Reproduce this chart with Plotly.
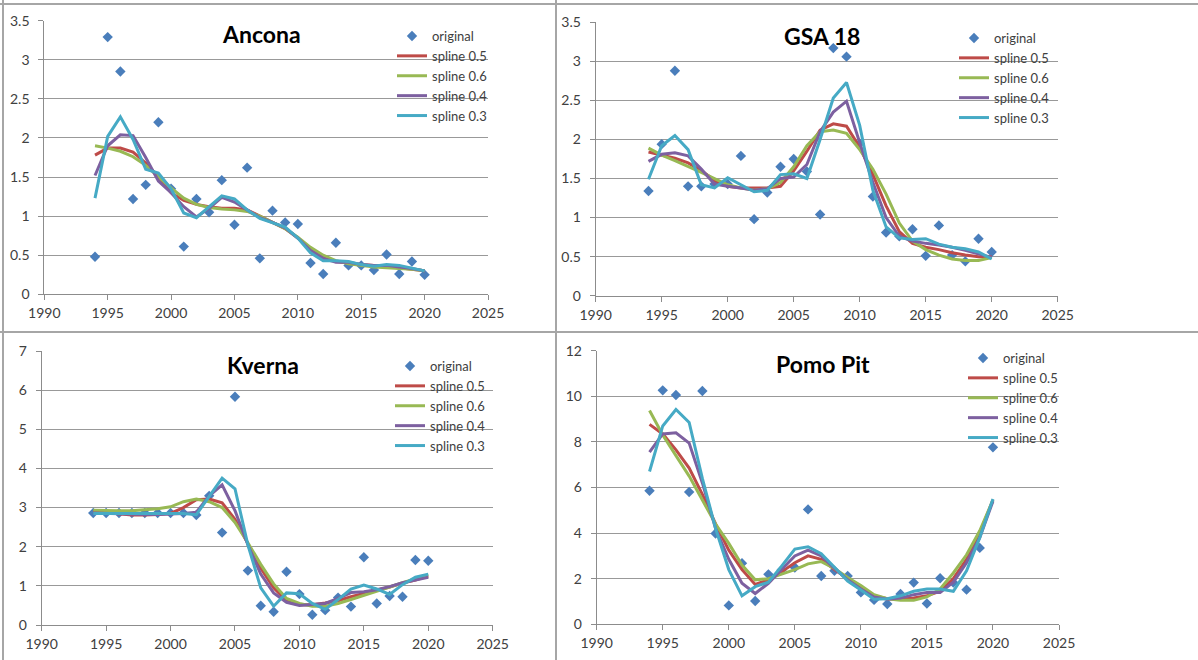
import plotly.graph_objects as go

years = list(range(1994, 2021))
series_names = ["original", "spline 0.5", "spline 0.6", "spline 0.4", "spline 0.3"]

# ---- Ancona ----
anc_orig = [0.48, 3.29, 2.85, 1.22, 1.40, 2.20, 1.35, 0.61, 1.22, 1.05, 1.46, 0.89, 1.62, 0.46,
            1.07, 0.92, 0.90, 0.40, 0.26, 0.66, 0.37, 0.37, 0.31, 0.51, 0.26, 0.42, 0.25]
anc_s05 = [1.78, 1.87, 1.87, 1.82, 1.68, 1.50, 1.30, 1.20, 1.15, 1.12, 1.10, 1.10, 1.08, 1.00,
           0.92, 0.84, 0.72, 0.58, 0.48, 0.42, 0.40, 0.38, 0.37, 0.35, 0.34, 0.32, 0.30]
anc_s06 = [1.90, 1.87, 1.83, 1.76, 1.65, 1.50, 1.36, 1.23, 1.15, 1.11, 1.09, 1.08, 1.06, 1.00,
           0.92, 0.84, 0.73, 0.60, 0.50, 0.43, 0.39, 0.37, 0.35, 0.34, 0.33, 0.32, 0.30]
anc_s04 = [1.52, 1.90, 2.04, 2.03, 1.75, 1.45, 1.30, 1.12, 0.99, 1.10, 1.24, 1.18, 1.08, 0.98,
           0.92, 0.85, 0.72, 0.56, 0.46, 0.41, 0.41, 0.38, 0.37, 0.37, 0.35, 0.33, 0.30]
anc_s03 = [1.23, 2.02, 2.27, 1.98, 1.60, 1.55, 1.35, 1.04, 0.98, 1.12, 1.26, 1.22, 1.08, 0.97,
           0.91, 0.86, 0.72, 0.53, 0.43, 0.43, 0.42, 0.38, 0.36, 0.38, 0.37, 0.33, 0.30]

# ---- GSA 18 ----
gsa_orig = [1.34, 1.94, 2.88, 1.40, 1.40, 1.43, 1.43, 1.79, 0.98, 1.32, 1.65, 1.75, 1.59, 1.04,
            3.17, 3.06, 1.95, 1.27, 0.81, 0.76, 0.85, 0.51, 0.90, 0.52, 0.44, 0.73, 0.56]
gsa_s05 = [1.84, 1.80, 1.76, 1.70, 1.60, 1.48, 1.40, 1.38, 1.38, 1.38, 1.40, 1.60, 1.85, 2.12,
           2.20, 2.17, 1.90, 1.55, 1.15, 0.82, 0.67, 0.62, 0.59, 0.55, 0.52, 0.50, 0.50]
gsa_s06 = [1.89, 1.80, 1.73, 1.66, 1.58, 1.50, 1.42, 1.38, 1.35, 1.37, 1.45, 1.65, 1.92, 2.10,
           2.12, 2.08, 1.87, 1.62, 1.30, 0.93, 0.70, 0.59, 0.52, 0.47, 0.45, 0.45, 0.49]
gsa_s04 = [1.72, 1.81, 1.83, 1.79, 1.62, 1.43, 1.40, 1.38, 1.35, 1.37, 1.50, 1.52, 1.68, 2.10,
           2.35, 2.49, 1.96, 1.45, 1.00, 0.76, 0.70, 0.67, 0.65, 0.62, 0.58, 0.54, 0.49]
gsa_s03 = [1.49, 1.92, 2.05, 1.87, 1.42, 1.38, 1.51, 1.42, 1.33, 1.35, 1.55, 1.56, 1.50, 2.00,
           2.53, 2.73, 2.18, 1.35, 0.88, 0.74, 0.72, 0.73, 0.66, 0.62, 0.60, 0.56, 0.47]

# ---- Kverna ----
kve_orig = [2.86, 2.86, 2.86, 2.86, 2.86, 2.86, 2.86, 2.86, 2.81, 3.30, 2.36, 5.83, 1.39, 0.49,
            0.34, 1.36, 0.79, 0.26, 0.38, 0.70, 0.47, 1.73, 0.55, 0.74, 0.72, 1.66, 1.64]
kve_s05 = [2.90, 2.87, 2.84, 2.81, 2.81, 2.82, 2.85, 3.00, 3.20, 3.22, 3.12, 2.70, 2.08, 1.45,
           0.95, 0.62, 0.52, 0.52, 0.56, 0.62, 0.72, 0.80, 0.88, 0.97, 1.07, 1.15, 1.25]
kve_s06 = [2.93, 2.92, 2.92, 2.92, 2.94, 2.97, 3.02, 3.15, 3.22, 3.15, 3.00, 2.62, 2.10, 1.55,
           1.05, 0.68, 0.55, 0.48, 0.48, 0.55, 0.65, 0.75, 0.86, 0.97, 1.08, 1.18, 1.28]
kve_s04 = [2.86, 2.85, 2.83, 2.82, 2.82, 2.82, 2.83, 2.85, 2.88, 3.30, 3.58, 2.92, 2.05, 1.30,
           0.82, 0.58, 0.50, 0.52, 0.55, 0.68, 0.83, 0.85, 0.90, 0.98, 1.08, 1.15, 1.22]
kve_s03 = [2.85, 2.85, 2.85, 2.85, 2.85, 2.85, 2.85, 2.85, 2.82, 3.28, 3.75, 3.48, 2.05, 0.95,
           0.48, 0.82, 0.80, 0.55, 0.40, 0.65, 0.92, 1.02, 0.92, 0.78, 1.03, 1.22, 1.30]

# ---- Pomo Pit ----
pom_orig = [5.86, 10.26, 10.06, 5.80, 10.23, 3.98, 0.83, 2.68, 1.02, 2.19, 2.38, 2.49, 5.04, 2.12,
            2.35, 2.12, 1.40, 1.07, 0.89, 1.33, 1.83, 0.91, 2.02, 1.83, 1.52, 3.35, 7.76]
pom_s05 = [8.77, 8.35, 7.65, 6.85, 5.70, 4.40, 3.25, 2.40, 1.75, 1.95, 2.30, 2.70, 3.00, 2.85,
           2.40, 2.00, 1.60, 1.25, 1.12, 1.10, 1.15, 1.25, 1.45, 2.00, 2.85, 4.00, 5.45]
pom_s06 = [9.38, 8.30, 7.40, 6.50, 5.45, 4.40, 3.55, 2.60, 1.95, 2.00, 2.20, 2.40, 2.65, 2.75,
           2.45, 2.05, 1.70, 1.30, 1.12, 1.05, 1.05, 1.20, 1.55, 2.25, 3.05, 4.10, 5.45]
pom_s04 = [7.55, 8.35, 8.40, 7.95, 6.20, 4.20, 2.85, 1.80, 1.35, 1.80, 2.40, 3.00, 3.25, 3.00,
           2.45, 1.95, 1.55, 1.20, 1.10, 1.15, 1.30, 1.40, 1.40, 1.85, 2.70, 3.80, 5.40]
pom_s03 = [6.70, 8.70, 9.42, 8.85, 6.40, 4.20, 2.40, 1.25, 1.65, 1.85, 2.55, 3.30, 3.40, 3.10,
           2.50, 1.90, 1.50, 1.10, 1.12, 1.25, 1.45, 1.55, 1.55, 1.45, 2.35, 3.80, 5.50]

titles = ["Ancona", "GSA 18", "Kverna", "Pomo Pit"]
y_max = [3.5, 3.5, 7, 12]
y_dtick = [0.5, 0.5, 1, 2]
x_ticks = [1990, 1995, 2000, 2005, 2010, 2015, 2020, 2025]

panels = [
    [anc_orig, anc_s05, anc_s06, anc_s04, anc_s03],
    [gsa_orig, gsa_s05, gsa_s06, gsa_s04, gsa_s03],
    [kve_orig, kve_s05, kve_s06, kve_s04, kve_s03],
    [pom_orig, pom_s05, pom_s06, pom_s04, pom_s03],
]

W, H = 1198, 660
# plot-area boxes in pixels: (x0, x1, ytop, ybottom)
boxes = [(44.3, 488.0, 20.7, 294.3),
         (595.7, 1057.7, 22.3, 295.7),
         (41.7, 492.7, 351.0, 625.0),
         (596.7, 1059.0, 350.7, 624.3)]
# legend anchor: (text start x, first item center y)
leg_pos = [(434, 37), (996, 39), (432, 367), (1005, 359)]

colors = ["#4A7EBB", "#BE4B48", "#98B954", "#7D60A0", "#46AAC5"]
FONT = "Lato, 'Open Sans', sans-serif"
TXT = "#404040"

fig = go.Figure()
layout = dict(template="none", width=W, height=H, margin=dict(l=0, r=0, t=0, b=0),
              paper_bgcolor="white", plot_bgcolor="white", showlegend=True,
              font=dict(family=FONT, size=14, color=TXT))
annotations = []
shapes = []

for i, data in enumerate(panels):
    n = "" if i == 0 else str(i + 1)
    xa, ya = "x" + n, "y" + n
    lg = "legend" + n
    for j, (name, vals) in enumerate(zip(series_names, data)):
        if j == 0:
            tr = go.Scatter(x=years, y=vals, mode="markers", name=name,
                            marker=dict(symbol="diamond", size=8, color=colors[0],
                                        line=dict(width=0)),
                            xaxis=xa, yaxis=ya, legend=lg)
        else:
            tr = go.Scatter(x=years, y=vals, mode="lines", name=name,
                            line=dict(color=colors[j], width=3),
                            xaxis=xa, yaxis=ya, legend=lg)
        fig.add_trace(tr)
    x0, x1, yt, yb = boxes[i]
    layout["xaxis" + n] = dict(domain=[x0 / W, x1 / W], range=[1990, 2025],
                               tickvals=x_ticks, ticks="outside", ticklen=5,
                               tickcolor="#8c8c8c", showline=True, linecolor="#8c8c8c",
                               linewidth=1, showgrid=False, zeroline=False,
                               anchor=ya, ticklabelstandoff=1, automargin=False,
                               tickfont=dict(size=14, color=TXT))
    layout["yaxis" + n] = dict(domain=[1 - yb / H, 1 - yt / H], range=[0, y_max[i]],
                               dtick=y_dtick[i], tick0=0, ticks="outside", ticklen=5,
                               tickcolor="#8c8c8c", showline=True, linecolor="#8c8c8c",
                               linewidth=1, showgrid=True, gridcolor="#999999",
                               gridwidth=1, zeroline=False, anchor=xa, automargin=False,
                               ticklabelstandoff=6, tickfont=dict(size=14, color=TXT))
    tx, ty = leg_pos[i]
    layout[lg] = dict(x=(tx - 42) / W, y=1 - (ty - 16) / H, xanchor="left", yanchor="top",
                      bgcolor="rgba(0,0,0,0)", borderwidth=0,
                      font=dict(size=13, color=TXT, family=FONT), itemwidth=30,
                      tracegroupgap=0)
    annotations.append(dict(text="<b>" + titles[i] + "</b>", xref=xa + " domain",
                            yref=ya + " domain", x=0.49, y=1 - 13.5 / (yb - yt),
                            xanchor="center", yanchor="middle", showarrow=False,
                            font=dict(size=23, color="black", family=FONT)))

# chart-object borders as in the spreadsheet screenshot
border = dict(color="#a6a6a6", width=2)
shapes.append(dict(type="line", xref="paper", yref="paper", x0=556 / W, x1=556 / W,
                   y0=0, y1=1, line=border))
shapes.append(dict(type="line", xref="paper", yref="paper", x0=0, x1=1,
                   y0=1 - 332 / H, y1=1 - 332 / H, line=border))
shapes.append(dict(type="line", xref="paper", yref="paper", x0=0, x1=1,
                   y0=1 - 4 / H, y1=1 - 4 / H, line=border))
shapes.append(dict(type="line", xref="paper", yref="paper", x0=3 / W, x1=3 / W,
                   y0=0, y1=1, line=border))

layout["annotations"] = annotations
layout["shapes"] = shapes
fig.update_layout(**layout)
fig.write_html("out.html", config={"displayModeBar": False},
               post_script="document.body.style.margin='0';document.body.style.overflow='hidden';")
